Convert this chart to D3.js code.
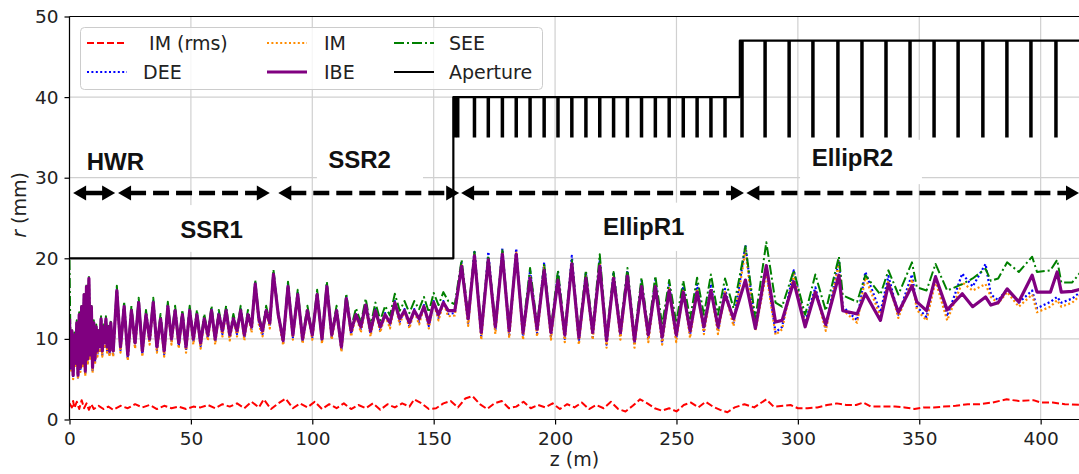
<!DOCTYPE html>
<html><head><meta charset="utf-8">
<script src="https://cdn.jsdelivr.net/npm/d3@7"></script>
<style>body{margin:0;background:#fff}svg{display:block}</style>
</head><body>
<svg id="chart" width="1079" height="474"></svg>
<script>
// ---------------- DATA ----------------
const xTicks = [0, 50, 100, 150, 200, 250, 300, 350, 400];
const yTicks = [0, 10, 20, 30, 40, 50];

// longitudinal positions (m) of the beam-envelope samples: HWR | SSR1 | SSR2 | EllipR1 | EllipR2
const zGrid = [
  0,0.5,1,1.5,2,2.5,3,3.5,4,4.5,5,5.5,6,6.5,7,7.5,8,8.5,9,9.5,10,10.5,11,11.5,12,12.5,13,13.5,14,14.5,15,15.5,16,16.5,17,17.5,
  18,19.5,21,22.5,24,25.5,27,28.5,30,31.5,33,34.5,36,37.5,39,40.5,42,43.5,45,46.5,48,49.5,51,52.5,54,55.5,57,58.5,60,61.5,63,64.5,66,67.5,69,70.5,72,73.5,75,76.5,78,79.5,81,82.5,84,
  86,88,90,92,94,96,98,100,102,104,106,108,110,112,114,116,118,120,122,124,126,128,130,132,134,136,138,140,142,144,146,148,150,152,154,156,
  158.7,161.5,164.2,166.8,169.6,172.5,175.4,178.3,181.1,184.0,186.8,189.7,192.6,195.5,198.3,201.2,204.0,206.9,209.8,212.7,215.5,218.4,221.2,224.1,226.9,229.8,232.7,235.6,238.4,241.3,244.1,247.0,249.9,252.8,255.6,258.5,261.3,264.2,267.1,270.0,273.5,
  278.4,282.5,287.0,290.8,293.5,298.3,303.0,307.2,311.5,316.9,318.5,324.4,327.8,334.0,337.3,341.4,347.0,349.0,353.0,356.7,361.5,367.7,372.0,377.3,379.5,382.5,386.2,391.0,396.5,398.5,404.0,406.8,408.5,413.0,417.0
];

// beam envelopes r (mm)
const rDEE = [
  12.3,6.0,10.8,5.2,10.3,6.6,11.8,5.2,12.8,6.1,13.8,6.6,15.3,5.6,16.3,7.0,17.3,7.6,13.8,6.0,11.8,7.0,11.3,8.0,10.8,8.5,12.3,8.0,11.3,9.0,12.3,8.5,11.3,8.0,11.8,9.0,
  8.1,16.2,8.6,14.2,7.6,13.7,9.1,14.7,8.1,13.2,9.6,14.7,8.6,12.7,8.1,14.2,9.6,13.7,9.1,13.2,8.6,13.7,9.6,13.2,9.1,12.7,10.1,13.7,9.6,13.2,10.6,13.7,10.1,12.7,10.6,13.7,10.1,13.2,11.1,17.0,12.1,10.6,13.7,11.6,18.2,
  13.0,9.5,16.7,10.2,15.7,9.7,13.7,10.2,15.7,9.7,16.7,10.2,13.7,8.7,15.2,10.6,13.2,11.1,14.4,10.6,13.7,11.1,13.2,11.6,14.7,12.1,13.7,11.6,13.7,12.1,14.2,11.6,14.7,12.6,14.7,13.1,
  13.2,19.5,12.0,21.0,10.3,20.8,11.0,21.2,10.5,21.2,10.3,18.5,10.7,19.5,10.3,18.3,10.0,20.3,9.7,18.2,10.2,19.8,9.3,18.3,10.3,18.5,9.3,17.2,9.9,17.3,9.5,16.8,10.0,16.5,10.5,16.8,11.0,16.8,11.0,16.2,12.0,
  21.6,11.4,18.8,10.8,11.5,18.5,12.0,16.4,11.3,19.8,14.0,12.3,18.3,13.3,17.8,13.0,18.0,14.0,12.7,17.8,12.8,18.1,16.5,19.3,15.5,14.8,16.2,14.5,16.0,13.8,14.6,15.2,14.5,15.0,16.0
];
const rIM = [
  12.2,5.8,10.7,5.0,10.2,6.4,11.7,5.0,12.7,5.9,13.7,6.4,15.2,5.4,16.2,6.8,17.2,7.4,13.7,5.8,11.7,6.8,11.2,7.8,10.7,8.3,12.2,7.8,11.2,8.8,12.2,8.3,11.2,7.8,11.7,8.8,
  7.8,16.0,8.3,14.0,7.3,13.5,8.8,14.5,7.8,13.0,9.3,14.5,8.3,12.5,7.8,14.0,9.3,13.5,8.8,13.0,8.3,13.5,9.3,13.0,8.8,12.5,9.8,13.5,9.3,13.0,10.3,13.5,9.8,12.5,10.3,13.5,9.8,13.0,10.8,16.8,11.8,10.3,13.5,11.3,18.0,
  12.8,9.2,16.5,9.9,15.5,9.4,13.5,9.9,15.5,9.4,16.5,9.9,13.5,8.4,15.0,10.3,13.0,10.8,14.2,10.3,13.5,10.8,13.0,11.3,14.5,11.8,13.5,11.3,13.5,11.8,14.0,11.3,14.5,12.3,14.5,12.8,
  12.9,19.2,11.6,20.5,9.9,20.2,10.6,20.7,10.1,20.7,9.9,17.9,10.3,18.9,9.9,17.7,9.6,19.6,9.3,17.8,9.9,19.3,8.9,17.8,9.9,18.1,8.9,16.8,9.6,16.8,9.3,16.3,9.6,16.1,10.1,16.2,10.6,16.3,10.6,15.8,11.6,
  21.0,11.0,18.2,10.5,11.2,18.0,11.8,16.0,11.0,19.5,13.6,12.0,17.6,12.8,17.2,12.6,17.4,13.6,12.3,17.2,12.3,17.0,16.0,16.8,15.2,14.4,15.8,14.0,15.5,13.3,14.0,14.8,14.0,14.5,15.6
];
const rIBE = [
  12.5,6.5,11,5.5,10.5,7,12,5.5,13,6.5,14,7,15.5,6,16.5,7.5,17.5,8,14,6.5,12,7.5,11.5,8.5,11,9,12.5,8.5,11.5,9.5,12.5,9,11.5,8.5,12,9.5,
  8.5,16.0,9.0,14.0,8.0,13.5,9.5,14.5,8.5,13.0,10.0,14.5,9.0,12.5,8.5,14.0,10.0,13.5,9.5,13.0,9.0,13.5,10.0,13.0,9.5,12.5,10.5,13.5,10.0,13.0,11.0,13.5,10.5,12.5,11.0,13.5,10.5,13.0,11.5,16.8,12.5,11.0,13.5,12.0,18.0,
  13.0,9.8,16.5,10.5,15.5,10.0,13.5,10.5,15.5,10.0,16.5,10.5,13.5,9.0,15.0,11.0,13.0,11.5,14.2,11.0,13.5,11.5,13.0,12.0,14.5,12.5,13.5,12.0,13.5,12.5,14.0,12.0,14.5,13.0,14.5,13.5,
  13.5,19.0,12.5,20.3,10.8,19.8,11.5,20.5,11.0,20.5,10.8,17.5,11.2,18.5,10.8,17.3,10.5,19.3,10.2,17.5,10.8,19.0,9.8,17.5,10.8,17.8,9.8,16.5,10.5,16.5,10.2,16.0,10.5,15.8,11.0,15.8,11.5,16.0,11.5,15.5,12.5,
  17.3,11.3,19.1,12.1,12.3,17.1,11.5,15.8,11.8,17.9,13.5,13.1,15.6,12.3,16.8,13.3,16.6,14.6,13.5,17.7,13.6,15.6,14.0,15.2,14.2,14.5,16.2,14.6,17.9,15.8,15.8,18.3,15.8,15.9,16.2
];
const rSEE = [
  19.8,7.0,11.3,5.8,10.8,7.2,12.3,5.8,13.3,6.7,14.3,7.2,15.8,6.2,16.8,7.7,17.8,8.2,14.3,6.7,12.3,7.7,11.8,8.7,11.3,9.2,12.8,8.7,11.8,9.7,12.8,9.2,11.8,8.7,12.3,9.7,
  8.6,16.6,9.1,14.6,8.1,14.1,9.6,15.1,8.6,13.6,10.1,15.1,9.1,13.1,8.6,14.6,10.1,14.1,9.6,13.6,9.1,14.1,10.1,13.6,9.6,13.1,10.6,14.1,10.1,13.6,11.1,14.1,10.6,13.1,11.1,14.1,10.6,13.6,11.6,17.3,12.8,11.1,14.1,12.1,18.6,
  13.2,9.9,17.1,10.6,16.1,10.1,14.1,10.6,16.1,10.1,17.1,10.6,14.1,9.1,15.6,11.4,13.8,12.0,15.0,11.6,14.5,12.3,14.1,12.9,15.6,13.5,14.7,13.2,14.7,13.7,15.2,13.3,15.7,14.2,15.8,14.7,
  14.3,19.8,13.0,20.8,11.3,20.3,12.0,21.0,11.5,20.5,11.3,18.8,11.7,19.3,11.3,18.5,11.0,19.8,10.7,18.5,11.3,20.5,10.3,18.3,11.3,18.8,10.3,17.6,11.0,17.8,11.7,17.3,12.0,17.2,12.5,17.6,13.0,18.0,13.0,17.5,13.8,
  21.5,12.5,22.0,14.5,14.0,18.5,13.0,18.0,13.5,20.2,15.4,14.6,17.9,15.5,18.5,15.5,19.5,16.4,16.0,19.3,16.0,16.8,17.5,18.7,17.2,17.5,19.5,18.3,20.2,18.3,18.5,19.8,17.0,17.0,18.5
];

// rms beam size (z m, r mm)
const imRms = [
  [0,2.0],[1,1.5],[1.5,2.3],[2,1.4],[3,2.2],[4,1.3],[5,2.4],[6,1.4],[7,2.0],[8,1.2],[9,1.9],[10,1.3],[12,1.7],[14,1.3],[16,1.6],[18,1.2],
  [21,1.7],[24,1.4],[27,1.9],[30,1.5],[33,1.8],[36,1.3],[39,1.7],[42,1.4],[45,1.6],[48,1.3],[51,1.6],[54,1.5],[57,1.8],[60,1.4],[63,1.9],
  [66,1.6],[69,2.0],[72,1.4],[75,2.2],[78,1.5],[80,2.5],[83,1.3],[86,2.0],[89,2.6],[92,1.4],[95,2.0],[98,1.5],[101,2.2],[104,1.3],[107,1.9],
  [110,1.4],[113,2.0],[116,1.3],[119,1.8],[122,1.4],[125,2.0],[128,1.2],[131,1.9],[134,1.5],[137,2.0],[140,1.6],[142,2.5],[145,2.0],[148,1.3],
  [151,1.4],[154,2.0],[157,2.3],[160,1.5],[163,2.6],[166,2.9],[169,1.9],[172,1.3],[175,2.0],[178,2.3],[181,1.4],[184,1.6],[187,2.2],[190,1.4],
  [193,1.8],[196,1.5],[199,2.0],[202,1.3],[205,1.9],[208,1.5],[211,2.1],[214,1.3],[217,1.8],[220,1.4],[223,2.2],[226,1.3],[229,1.0],[232,1.7],
  [235,2.5],[238,2.0],[241,1.4],[244,1.1],[247,1.4],[250,1.0],[253,1.8],[256,2.1],[259,1.5],[262,2.2],[265,1.6],[268,1.2],[271,0.9],[274,1.5],
  [278,1.9],[282,1.5],[287,2.5],[290,1.6],[294,1.7],[297,1.8],[300,1.4],[304,1.4],[308,1.5],[312,1.8],[316,2.0],[320,1.8],[324,1.8],[327,2.1],
  [330,1.6],[335,1.6],[340,1.6],[344,1.5],[348,1.3],[352,1.5],[356,1.5],[360,1.6],[365,1.7],[370,1.9],[375,1.9],[380,2.1],[386,2.5],[391,2.3],
  [397,2.4],[400,2.1],[405,2.1],[410,1.9],[417,1.8]
];

// aperture profile
const apertureZ = [0, 158.1, 276.1, 416];
const apertureR = [20, 40, 47, 47];
const cavityZ1 = [158.6,159.9,166.8,172.5,178.3,184.0,189.7,195.5,201.2,206.9,212.7,218.4,224.1,229.8,235.6,241.3,247.0,252.8,258.5,264.2,270.0];
const cavityZ2 = [277.0,286.5,296.4,306.2,316.5,326.4,336.3,346.2,356.1,366.0,376.2,386.1,396.0,406.3];
const cavityTipR = 35;

// accelerator sections
const sectionNames = ["HWR", "SSR1", "SSR2", "EllipR1", "EllipR2"];
const sectionStart = [1.5, 20.0, 86.0, 161.3, 278.8];
const sectionEnd   = [18.8, 82.5, 160.5, 277.8, 415.8];

// ---------------- CHART ----------------
const W = 1079, H = 474;
const L = 69.5, R = 1079.5, T = 16.5, B = 419.5;
const x = d3.scaleLinear().domain([0, 416]).range([L, R]);
const y = d3.scaleLinear().domain([0, 50]).range([B, T]);
const FONT = "DejaVu Sans";

const svg = d3.select('#chart');
svg.append('rect').attr('width', W).attr('height', H).attr('fill', '#fff');
svg.append('defs').append('clipPath').attr('id', 'plotclip')
  .append('rect').attr('x', L).attr('y', T).attr('width', R - L).attr('height', B - T);

// grid
const g = svg.append('g');
g.selectAll('.gx').data(xTicks).join('line')
  .attr('x1', d => x(d)).attr('x2', d => x(d)).attr('y1', T).attr('y2', B)
  .attr('stroke', '#d0d0d0').attr('stroke-width', 1.2);
g.selectAll('.gy').data(yTicks).join('line')
  .attr('x1', L).attr('x2', R).attr('y1', d => y(d)).attr('y2', d => y(d))
  .attr('stroke', '#d0d0d0').attr('stroke-width', 1.2);

const styles = {
  rms: {color: '#ff0000', width: 2, dash: '7,3'},
  dee: {color: '#0000ff', width: 2.2, dash: '2,2.4'},
  im:  {color: '#ff8c00', width: 2.2, dash: '2,2.4'},
  ibe: {color: '#800080', width: 3.2, dash: null},
  see: {color: '#008000', width: 2, dash: '10,3,2,3'},
  ap:  {color: '#000000', width: 2.2, dash: null}
};

const plot = svg.append('g').attr('clip-path', 'url(#plotclip)');
const line = d3.line().x(d => x(d[0])).y(d => y(d[1]));
const withZ = vals => zGrid.map((z, i) => [z, vals[i]]);

function drawPath(data, st, gen) {
  plot.append('path').datum(data).attr('d', gen || line)
    .attr('fill', 'none').attr('stroke', st.color).attr('stroke-width', st.width)
    .attr('stroke-dasharray', st.dash).attr('stroke-linejoin', 'round');
}
drawPath(imRms, styles.rms);
drawPath(withZ(rDEE), styles.dee);
drawPath(withZ(rIM), styles.im);
drawPath(withZ(rSEE), styles.see);
drawPath(withZ(rIBE), styles.ibe);

// aperture
const apLine = d3.line().x(d => x(d[0])).y(d => y(d[1])).curve(d3.curveStepAfter);
drawPath(apertureZ.map((z, i) => [z, apertureR[i]]), styles.ap, apLine);
plot.selectAll('.cav1').data(cavityZ1).join('line')
  .attr('x1', d => x(d)).attr('x2', d => x(d)).attr('y1', y(apertureR[1])).attr('y2', y(cavityTipR))
  .attr('stroke', '#000').attr('stroke-width', 3.5);
plot.selectAll('.cav2').data(cavityZ2).join('line')
  .attr('x1', d => x(d)).attr('x2', d => x(d)).attr('y1', y(apertureR[2])).attr('y2', y(cavityTipR))
  .attr('stroke', '#000').attr('stroke-width', 3.5);

// spines
const sp = svg.append('g').attr('stroke', '#000').attr('stroke-width', 1.2);
sp.append('line').attr('x1', L).attr('x2', L).attr('y1', T).attr('y2', B);
sp.append('line').attr('x1', L).attr('x2', R).attr('y1', B).attr('y2', B);
sp.append('line').attr('x1', L).attr('x2', R).attr('y1', T).attr('y2', T);

// axes
const xAx = svg.append('g').attr('transform', `translate(0,${B})`)
  .call(d3.axisBottom(x).tickValues(xTicks).tickSize(5).tickPadding(7).tickFormat(d3.format('d')));
const yAx = svg.append('g').attr('transform', `translate(${L},0)`)
  .call(d3.axisLeft(y).tickValues(yTicks).tickSize(5).tickPadding(6).tickFormat(d3.format('d')));
[xAx, yAx].forEach(a => {
  a.select('.domain').remove();
  a.selectAll('line').attr('stroke', '#000').attr('stroke-width', 1.2);
  a.selectAll('text').attr('font-family', FONT).attr('font-size', 18.5).attr('fill', '#222');
});

svg.append('text').attr('x', (L + R) / 2).attr('y', 466).attr('text-anchor', 'middle')
  .attr('font-family', FONT).attr('font-size', 19).attr('fill', '#222').text('z (m)');
const yl = svg.append('text').attr('transform', 'translate(26,205) rotate(-90)').attr('text-anchor', 'middle')
  .attr('font-family', FONT).attr('font-size', 19).attr('fill', '#222');
yl.append('tspan').attr('font-style', 'italic').text('r');
yl.append('tspan').text(' (mm)');

// legend
const legend = svg.append('g');
legend.append('rect').attr('x', 80.5).attr('y', 27.5).attr('width', 462).attr('height', 62).attr('rx', 4)
  .attr('fill', '#fff').attr('fill-opacity', 0.8).attr('stroke', '#cccccc').attr('stroke-width', 1);
const legendItems = [
  {label: ' IM (rms)', st: styles.rms}, {label: 'DEE', st: styles.dee},
  {label: 'IM', st: styles.im}, {label: 'IBE', st: styles.ibe},
  {label: 'SEE', st: styles.see}, {label: 'Aperture', st: styles.ap}
];
const colHandle = [87, 267, 394], colText = [143, 324, 449], rowY = [43, 72];
legendItems.forEach((it, i) => {
  const c = Math.floor(i / 2), r = i % 2;
  legend.append('line').attr('x1', colHandle[c]).attr('x2', colHandle[c] + 40)
    .attr('y1', rowY[r]).attr('y2', rowY[r]).attr('stroke', it.st.color)
    .attr('stroke-width', it.st.width).attr('stroke-dasharray', it.st.dash);
  legend.append('text').attr('x', colText[c]).attr('y', rowY[r]).attr('dy', '0.35em')
    .style('white-space', 'pre').attr('font-family', FONT).attr('font-size', 19).attr('fill', '#222')
    .text(it.label);
});

// section annotations
const labelZ = [18.9, 58.5, 119.5, 236.5, 322.5];
const labelR = [30.9, 22.5, 31.2, 22.9, 31.5];
const boxZ0 = [null, 41.4, 101.9, 214.4, 300.9];
const boxZ1 = [null, 76.4, 145.6, 259.7, 351.1];
const boxR0 = [null, 20.8, 29.6, 20.9, 29.2];
const boxR1 = [null, 26.6, 34.7, 26.9, 34.7];
const ann = svg.append('g');
sectionNames.forEach((nm, i) => {
  if (boxZ0[i] !== null) {
    ann.append('rect').attr('x', x(boxZ0[i])).attr('y', y(boxR1[i]))
      .attr('width', x(boxZ1[i]) - x(boxZ0[i])).attr('height', y(boxR0[i]) - y(boxR1[i]))
      .attr('fill', '#fff');
  }
});
sectionNames.forEach((nm, i) => {
  ann.append('text').attr('x', x(labelZ[i])).attr('y', y(labelR[i])).attr('text-anchor', 'middle')
    .attr('font-family', 'Liberation Sans').attr('font-weight', 'bold').attr('font-size', 24)
    .attr('fill', '#111').text(nm);
});

// arrows
const arrowR = 28.1, headL = 13, headH = 7.5;
const ay = y(arrowR);
sectionNames.forEach((nm, i) => {
  const x0 = x(sectionStart[i]), x1 = x(sectionEnd[i]);
  ann.append('line').attr('x1', x0 + headL - 1).attr('x2', x1 - headL + 1).attr('y1', ay).attr('y2', ay)
    .attr('stroke', '#000').attr('stroke-width', 4.5)
    .attr('stroke-dasharray', i === 0 ? null : '16,7');
  ann.append('path').attr('d', `M${x0},${ay}L${x0 + headL},${ay - headH}L${x0 + headL},${ay + headH}Z`).attr('fill', '#000');
  ann.append('path').attr('d', `M${x1},${ay}L${x1 - headL},${ay - headH}L${x1 - headL},${ay + headH}Z`).attr('fill', '#000');
});
</script>
</body></html>
